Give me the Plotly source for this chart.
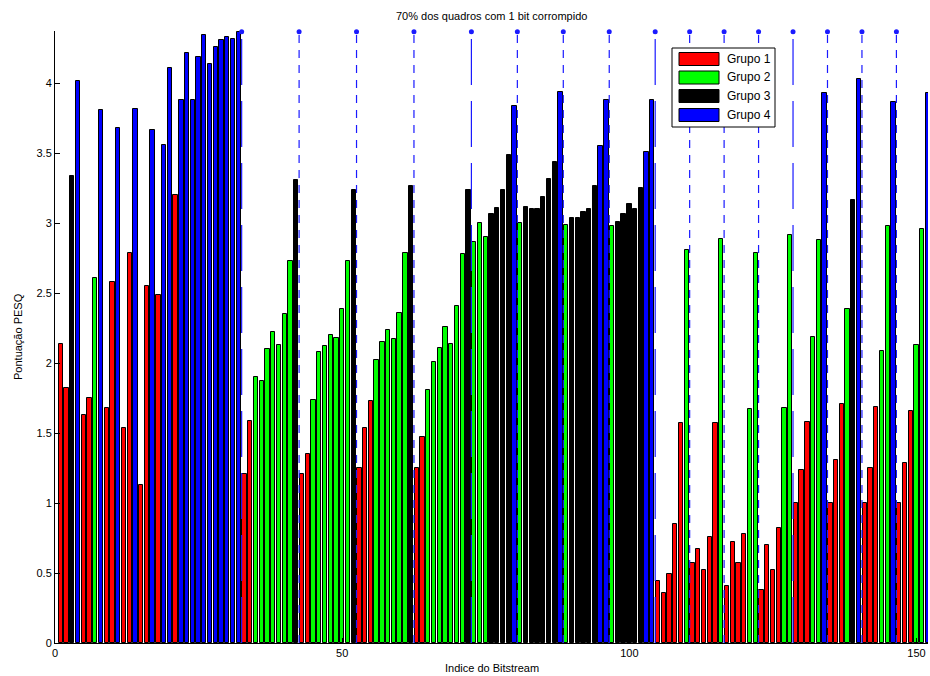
import plotly.graph_objects as go

# ---------------- data ----------------
bar_index = list(range(1, 153))
groups = [
    1, 1, 3, 4, 1, 1, 2, 4, 1, 1, 4, 1, 1, 4, 1, 1, 4, 1, 4, 4,
    1, 4, 4, 4, 4, 4, 4, 4, 4, 4, 4, 4, 1, 1, 2, 2, 2, 2, 2, 2,
    2, 3, 1, 1, 2, 2, 2, 2, 2, 2, 2, 3, 1, 1, 1, 2, 2, 2, 2, 2,
    2, 3, 1, 1, 2, 2, 2, 2, 2, 2, 2, 3, 2, 2, 2, 3, 3, 3, 3, 4,
    2, 3, 3, 3, 3, 3, 3, 4, 2, 3, 3, 3, 3, 3, 4, 4, 2, 3, 3, 3,
    3, 3, 4, 4, 1, 1, 1, 1, 1, 2, 1, 1, 1, 1, 1, 2, 1, 1, 1, 1,
    2, 2, 1, 1, 1, 1, 2, 2, 1, 1, 1, 2, 2, 4, 1, 1, 1, 2, 3, 4,
    1, 1, 1, 2, 2, 4, 1, 1, 1, 2, 2, 4,
]
pesq = [
    2.14, 1.82, 3.34, 4.02, 1.63, 1.75, 2.61, 3.81, 1.68, 2.58,
    3.68, 1.54, 2.79, 3.82, 1.13, 2.55, 3.67, 2.49, 3.56, 4.11,
    3.20, 3.88, 4.22, 3.88, 4.19, 4.35, 4.14, 4.26, 4.31, 4.33,
    4.32, 4.37, 1.21, 1.59, 1.90, 1.87, 2.10, 2.22, 2.13, 2.35,
    2.73, 3.31, 1.21, 1.35, 1.74, 2.08, 2.12, 2.20, 2.18, 2.39,
    2.73, 3.24, 1.25, 1.54, 1.73, 2.02, 2.15, 2.24, 2.17, 2.36,
    2.79, 3.27, 1.25, 1.47, 1.81, 2.01, 2.11, 2.26, 2.14, 2.41,
    2.78, 3.24, 2.87, 3.00, 2.90, 3.07, 3.11, 3.24, 3.49, 3.84,
    3.00, 3.12, 3.10, 3.10, 3.19, 3.32, 3.44, 3.94, 2.99, 3.04,
    3.04, 3.08, 3.10, 3.27, 3.55, 3.88, 2.98, 3.01, 3.07, 3.14,
    3.10, 3.25, 3.51, 3.88, 0.44, 0.36, 0.49, 0.85, 1.57, 2.81,
    0.57, 0.67, 0.52, 0.76, 1.57, 2.89, 0.41, 0.72, 0.57, 0.78,
    1.67, 2.79, 0.38, 0.70, 0.52, 0.82, 1.68, 2.92, 1.00, 1.24,
    1.58, 2.19, 2.88, 3.93, 1.00, 1.31, 1.71, 2.39, 3.17, 4.03,
    1.00, 1.25, 1.69, 2.09, 2.98, 3.87, 1.00, 1.29, 1.66, 2.13,
    2.96, 3.93,
]
group_names = ["Grupo 1", "Grupo 2", "Grupo 3", "Grupo 4"]
group_colors = ["#ff0000", "#00ff00", "#000000", "#0000ff"]

stem_pos_dashed = [42.5, 52.5, 62.5, 80.5, 88.5, 96.5, 110.5, 116.5,
                   122.5, 134.5, 140.5, 146.5]
stem_pos_long = [32.5, 72.5, 104.5, 128.5]
stem_top = 4.37

x_ticks = [0, 50, 100, 150]
y_ticks = [0, 0.5, 1, 1.5, 2, 2.5, 3, 3.5, 4]
y_tick_text = ["0", "0.5", "1", "1.5", "2", "2.5", "3", "3.5", "4"]

title_text = "70% dos quadros com 1 bit corrompido"
x_label = "Indice do Bitstream"
y_label = "Pontuação PESQ"

# ---------------- figure ----------------
FONT = "Liberation Sans, Arial, Helvetica, sans-serif"
W, H = 930, 676
ML, MR, MT, MB = 55, 2, 31, 33
PW, PH = W - ML - MR, H - MT - MB


def px2x(px):
    return (px - ML) / PW


def px2y(py):
    return (H - MB - py) / PH


fig = go.Figure()

for g, (name, col) in enumerate(zip(group_names, group_colors), start=1):
    xs = [i for i, gg in zip(bar_index, groups) if gg == g]
    ys = [v for v, gg in zip(pesq, groups) if gg == g]
    fig.add_trace(go.Bar(
        x=xs, y=ys, name=name, width=0.75,
        marker=dict(color=col, line=dict(color="#000000", width=1)),
        showlegend=False,
    ))


def stem_xy(positions):
    xs, ys = [], []
    for p in positions:
        xs += [p, p, None]
        ys += [0, stem_top, None]
    return xs, ys


sx, sy = stem_xy(stem_pos_dashed)
fig.add_trace(go.Scatter(x=sx, y=sy, mode="lines", showlegend=False,
                         line=dict(color="#1a1aff", width=1.2, dash="8px,7px"),
                         cliponaxis=False, hoverinfo="skip"))
sx, sy = stem_xy(stem_pos_long)
fig.add_trace(go.Scatter(x=sx, y=sy, mode="lines", showlegend=False,
                         line=dict(color="#1a1aff", width=1.2, dash="46px,16px"),
                         cliponaxis=False, hoverinfo="skip"))
all_stems = sorted(stem_pos_dashed + stem_pos_long)
fig.add_trace(go.Scatter(x=all_stems, y=[stem_top] * len(all_stems), mode="markers",
                         showlegend=False, cliponaxis=False,
                         marker=dict(color="#1a1aff", size=5, line=dict(width=0)),
                         hoverinfo="skip"))

# manual legend (MATLAB style)
shapes = [dict(type="rect", xref="paper", yref="paper",
               x0=px2x(672), x1=px2x(775), y0=px2y(127), y1=px2y(48),
               fillcolor="white", line=dict(color="black", width=1), layer="above")]
annotations = []
row_centers = [59, 77.5, 96, 115]
for name, col, yc in zip(group_names, group_colors, row_centers):
    shapes.append(dict(type="rect", xref="paper", yref="paper",
                       x0=px2x(679), x1=px2x(719), y0=px2y(yc + 6.5), y1=px2y(yc - 6.5),
                       fillcolor=col, line=dict(color="black", width=1), layer="above"))
    annotations.append(dict(text=name, xref="paper", yref="paper",
                            x=px2x(725), y=px2y(yc), xanchor="left", yanchor="middle",
                            showarrow=False, font=dict(family=FONT, size=12, color="black")))

annotations.append(dict(text=title_text, xref="paper", yref="paper",
                        x=0.5, y=px2y(16), xanchor="center", yanchor="middle",
                        showarrow=False, font=dict(family=FONT, size=11, color="black")))
annotations.append(dict(text=x_label, xref="paper", yref="paper",
                        x=0.5, y=px2y(668), xanchor="center", yanchor="middle",
                        showarrow=False, font=dict(family=FONT, size=11, color="black")))
annotations.append(dict(text=y_label, xref="paper", yref="paper",
                        x=px2x(18), y=0.5, xanchor="center", yanchor="middle",
                        textangle=-90, showarrow=False,
                        font=dict(family=FONT, size=11, color="black")))

fig.update_layout(
    width=W, height=H,
    margin=dict(l=ML, r=MR, t=MT, b=MB, autoexpand=False),
    paper_bgcolor="white", plot_bgcolor="white",
    barmode="overlay", bargap=0,
    font=dict(family=FONT, size=11, color="black"),
    shapes=shapes, annotations=annotations,
    xaxis=dict(range=[0, 152], tickvals=x_ticks, ticks="inside", ticklen=5,
               tickcolor="black", showline=True, linecolor="black", linewidth=1,
               showgrid=False, zeroline=False, tickfont=dict(size=11)),
    yaxis=dict(range=[0, 4.375], tickvals=y_ticks, ticktext=y_tick_text,
               ticks="inside", ticklen=5, tickcolor="black", showline=True,
               linecolor="black", linewidth=1, showgrid=False, zeroline=False,
               tickfont=dict(size=11)),
)

fig.write_html("out.html",
               config={"displayModeBar": False},
               post_script="document.body.style.margin='0px';document.body.style.overflow='hidden';")
